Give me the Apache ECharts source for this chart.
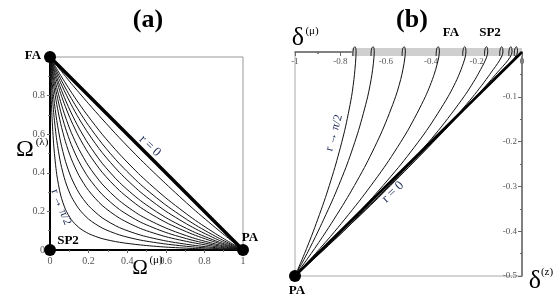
<!DOCTYPE html>
<html><head><meta charset="utf-8">
<script src="https://cdn.jsdelivr.net/npm/echarts@6/dist/echarts.min.js"></script>
<style>html,body{margin:0;padding:0;background:#fff}#c{width:554px;height:301px}</style>
</head><body><div id="c"></div>
<script>
// ---------- Panel (a) data ----------
const aX = [0, 0.004, 0.01, 0.02, 0.035, 0.055, 0.08, 0.11, 0.15, 0.2, 0.27, 0.36, 0.47, 0.6, 0.74, 0.87, 1];
const aCurve1  = [1, 0.995, 0.987, 0.975, 0.956, 0.931, 0.900, 0.863, 0.816, 0.758, 0.679, 0.581, 0.468, 0.343, 0.215, 0.105, 0];
const aCurve2  = [1, 0.993, 0.982, 0.965, 0.939, 0.905, 0.865, 0.818, 0.759, 0.690, 0.600, 0.497, 0.385, 0.270, 0.163, 0.077, 0];
const aCurve3  = [1, 0.991, 0.978, 0.957, 0.926, 0.887, 0.839, 0.786, 0.720, 0.645, 0.551, 0.447, 0.339, 0.233, 0.138, 0.064, 0];
const aCurve4  = [1, 0.990, 0.974, 0.949, 0.912, 0.866, 0.813, 0.753, 0.681, 0.602, 0.505, 0.402, 0.299, 0.201, 0.117, 0.053, 0];
const aCurve5  = [1, 0.987, 0.968, 0.937, 0.893, 0.839, 0.777, 0.710, 0.632, 0.548, 0.450, 0.350, 0.255, 0.168, 0.096, 0.043, 0];
const aCurve6  = [1, 0.984, 0.961, 0.925, 0.873, 0.811, 0.742, 0.669, 0.586, 0.500, 0.403, 0.308, 0.220, 0.143, 0.081, 0.036, 0];
const aCurve7  = [1, 0.980, 0.950, 0.904, 0.841, 0.768, 0.689, 0.609, 0.522, 0.435, 0.342, 0.255, 0.178, 0.114, 0.063, 0.028, 0];
const aCurve8  = [1, 0.974, 0.937, 0.880, 0.805, 0.719, 0.632, 0.547, 0.458, 0.374, 0.288, 0.210, 0.144, 0.091, 0.050, 0.022, 0];
const aCurve9  = [1, 0.965, 0.917, 0.845, 0.754, 0.656, 0.561, 0.473, 0.386, 0.308, 0.231, 0.165, 0.111, 0.069, 0.038, 0.016, 0];
const aCurve10 = [1, 0.949, 0.880, 0.784, 0.671, 0.560, 0.460, 0.375, 0.296, 0.229, 0.167, 0.116, 0.077, 0.047, 0.025, 0.011, 0];
const aCurve11 = [1, 0.922, 0.825, 0.700, 0.568, 0.450, 0.354, 0.278, 0.213, 0.160, 0.114, 0.078, 0.051, 0.031, 0.016, 0.007, 0];
const aCurve12 = [1, 0.853, 0.697, 0.533, 0.391, 0.285, 0.211, 0.158, 0.116, 0.085, 0.059, 0.040, 0.026, 0.015, 0.008, 0.003, 0];
const aCurves = [aCurve1, aCurve2, aCurve3, aCurve4, aCurve5, aCurve6, aCurve7, aCurve8, aCurve9, aCurve10, aCurve11, aCurve12];
const aLineX = [0, 1];
const aLineY = [1, 0];
const aPointNames = ['FA', 'SP2', 'PA'];
const aPointX = [0, 0, 1];
const aPointY = [1, 0, 0];
const aTickLabels = ['0', '0.2', '0.4', '0.6', '0.8', '1'];
const aYTickLabels = ['0', '0.2', '0.4', '0.6', '0.8', ''];

// ---------- Panel (b) data ----------
const bY = [-0.5, -0.45, -0.4, -0.325, -0.25, -0.175, -0.1, -0.05, 0, 0.008, 0.012, 0.008, -0.002, -0.009];
const bCurve1 = [-1, -0.958, -0.919, -0.866, -0.820, -0.781, -0.751, -0.738, -0.731, -0.732, -0.736, -0.742, -0.745, -0.745];
const bCurve2 = [-1, -0.947, -0.898, -0.830, -0.770, -0.720, -0.680, -0.661, -0.651, -0.652, -0.656, -0.662, -0.665, -0.665];
const bCurve3 = [-1, -0.929, -0.862, -0.769, -0.686, -0.615, -0.557, -0.529, -0.514, -0.515, -0.519, -0.525, -0.528, -0.528];
const bCurve4 = [-1, -0.910, -0.824, -0.705, -0.597, -0.503, -0.426, -0.387, -0.364, -0.365, -0.369, -0.375, -0.378, -0.378];
const bCurve5 = [-1, -0.897, -0.798, -0.659, -0.532, -0.420, -0.326, -0.277, -0.247, -0.248, -0.252, -0.258, -0.261, -0.261];
const bCurve6 = [-1, -0.891, -0.786, -0.636, -0.496, -0.368, -0.256, -0.194, -0.151, -0.152, -0.156, -0.162, -0.165, -0.165];
const bCurve7 = [-1, -0.893, -0.787, -0.632, -0.485, -0.344, -0.217, -0.142, -0.084, -0.085, -0.089, -0.095, -0.098, -0.098];
const bCurve8 = [-1, -0.897, -0.793, -0.638, -0.487, -0.341, -0.203, -0.116, -0.044, -0.045, -0.049, -0.055, -0.058, -0.058];
const bCurve9 = [-1, -0.899, -0.798, -0.646, -0.494, -0.345, -0.200, -0.106, -0.020, -0.021, -0.025, -0.031, -0.034, -0.034];
const bCurves = [bCurve1, bCurve2, bCurve3, bCurve4, bCurve5, bCurve6, bCurve7, bCurve8, bCurve9];
const bLineX = [-1, 0];
const bLineY = [-0.5, 0];
const bBandX = [-0.75, 0];
const bBandY = [0, 0];
const bPointX = [-1];
const bPointY = [-0.5];
const bXTickLabels = ['-1', '-0.8', '-0.6', '-0.4', '-0.2', '0'];
const bYTickLabels = ['-0.5', '-0.4', '-0.3', '-0.2', '-0.1', ''];

// ---------- build ----------
const chart = echarts.init(document.getElementById('c'), null, {renderer: 'canvas'});
const serif = 'Liberation Serif';
const zip = (xs, ys) => xs.map((x, i) => [x, ys[i]]);
const series = [];
aCurves.forEach(c => series.push({
  type: 'line', xAxisIndex: 0, yAxisIndex: 0, data: zip(aX, c), symbol: 'none',
  smooth: 0.25, lineStyle: {color: '#111', width: 1}, silent: true, z: 3
}));
series.push({type: 'line', xAxisIndex: 0, yAxisIndex: 0, data: zip(aLineX, aLineY), symbol: 'none',
  lineStyle: {color: '#000', width: 3.4}, z: 4});
series.push({type: 'scatter', xAxisIndex: 0, yAxisIndex: 0, data: zip(aPointX, aPointY), symbolSize: 12,
  itemStyle: {color: '#000', opacity: 1}, z: 6, clip: false});

series.push({type: 'line', xAxisIndex: 1, yAxisIndex: 1, data: zip(bBandX, bBandY), symbol: 'none',
  lineStyle: {color: '#cfcfcf', width: 8}, z: 1, clip: false});
bCurves.forEach(c => series.push({
  type: 'line', xAxisIndex: 1, yAxisIndex: 1, data: zip(c, bY), symbol: 'none',
  smooth: 0.25, lineStyle: {color: '#111', width: 1}, clip: false, z: 3
}));
series.push({type: 'line', xAxisIndex: 1, yAxisIndex: 1, data: zip(bLineX, bLineY), symbol: 'none',
  lineStyle: {color: '#000', width: 2.6}, z: 4});
series.push({type: 'scatter', xAxisIndex: 1, yAxisIndex: 1, data: zip(bPointX, bPointY), symbolSize: 12,
  itemStyle: {color: '#000', opacity: 1}, z: 6, clip: false});

const lbl = (arr, vmin, step) => (v) => { const i = Math.round((v - vmin) / step); return arr[i] !== undefined ? arr[i] : ''; };
const tickLbl = {fontFamily: serif, fontSize: 10, color: '#555'};

const T = (text, x, y, font, extra) => Object.assign({
  type: 'text', x: x, y: y, z: 100,
  style: Object.assign({text: text, font: font, fill: '#000', textAlign: 'center', textVerticalAlign: 'middle',
    align: 'center', verticalAlign: 'middle'}, (extra && extra.style) || {})
}, extra && extra.rotation !== undefined ? {rotation: extra.rotation} : {});

const option = {
  animation: false,
  backgroundColor: '#fff',
  grid: [
    {left: 50, top: 57, width: 193, height: 193, show: true, borderColor: '#999', borderWidth: 1, containLabel: false, outerBoundsMode: 'none'},
    {left: 295, top: 52, width: 227, height: 224, show: true, borderColor: '#aaa', borderWidth: 1, containLabel: false, outerBoundsMode: 'none'}
  ],
  xAxis: [
    {gridIndex: 0, type: 'value', min: 0, max: 1, interval: 0.2, position: 'bottom',
      axisLine: {onZero: false, lineStyle: {color: '#000', width: 2}},
      axisTick: {show: true, length: 3, lineStyle: {color: '#666'}},
      minorTick: {show: true, splitNumber: 2, length: 2, lineStyle: {color: '#777'}},
      splitLine: {show: false}, minorSplitLine: {show: false},
      axisLabel: Object.assign({margin: 6, formatter: lbl(aTickLabels, 0, 0.2)}, tickLbl)},
    {gridIndex: 1, type: 'value', min: -1, max: 0, interval: 0.2, position: 'top',
      axisLine: {onZero: false, lineStyle: {color: '#666', width: 1.5}},
      axisTick: {show: true, inside: true, length: 4, lineStyle: {color: '#666'}},
      minorTick: {show: true, splitNumber: 2, length: 2, lineStyle: {color: '#666', width: 1.5}},
      splitLine: {show: false},
      axisLabel: Object.assign({inside: true, margin: 5, formatter: lbl(bXTickLabels, -1, 0.2)}, tickLbl, {fontSize: 9})}
  ],
  yAxis: [
    {gridIndex: 0, type: 'value', min: 0, max: 1, interval: 0.2, position: 'left',
      axisLine: {onZero: false, lineStyle: {color: '#000', width: 2}},
      axisTick: {show: true, length: 3, lineStyle: {color: '#666'}},
      minorTick: {show: true, splitNumber: 2, length: 2, lineStyle: {color: '#777'}},
      splitLine: {show: false},
      axisLabel: Object.assign({margin: 5, formatter: lbl(aYTickLabels, 0, 0.2)}, tickLbl)},
    {gridIndex: 1, type: 'value', min: -0.5, max: 0, interval: 0.1, position: 'right',
      axisLine: {onZero: false, lineStyle: {color: '#666', width: 1.5}},
      axisTick: {show: true, inside: true, length: 4, lineStyle: {color: '#666'}},
      minorTick: {show: true, splitNumber: 2, length: 2, lineStyle: {color: '#666'}},
      splitLine: {show: false},
      axisLabel: Object.assign({inside: true, margin: 5, formatter: lbl(bYTickLabels, -0.5, 0.1)}, tickLbl, {fontSize: 9})}
  ],
  series: series,
  graphic: [
    T('(a)', 148, 20, 'bold 26px ' + serif),
    T('(b)', 412, 20, 'bold 26px ' + serif),
    T('FA', 33, 56, 'bold 13px ' + serif),
    T('SP2', 68, 241, 'bold 13px ' + serif),
    T('PA', 250, 238, 'bold 13px ' + serif),
    T('FA', 451, 33, 'bold 13px ' + serif),
    T('SP2', 490, 33, 'bold 13px ' + serif),
    T('PA', 297, 291, 'bold 13px ' + serif),
    T('Ω', 25, 150, '24px ' + serif),
    T('(λ)', 42, 142, '11px ' + serif),
    T('Ω', 140, 268, '21px ' + serif),
    T('(μ)', 156, 260, '11px ' + serif),
    T('δ', 298, 38, '26px ' + serif),
    T('(μ)', 312, 31, '11px ' + serif),
    T('δ', 535, 281, '26px ' + serif),
    T('(z)', 547, 272, '11px ' + serif),
    T('r = 0', 150, 146, '13px ' + serif, {rotation: -0.76, style: {fill: '#1c2a55'}}),
    T('r → π/2', 61, 207, '12px ' + serif, {rotation: -1.2, style: {fill: '#1c2a55'}}),
    T('r → π/2', 334, 133, '12px ' + serif, {rotation: 1.3, style: {fill: '#1c2a55'}}),
    T('r = 0', 393, 192, '13px ' + serif, {rotation: 0.75, style: {fill: '#1c2a55'}})
  ]
};
chart.setOption(option);
</script>
</body></html>
